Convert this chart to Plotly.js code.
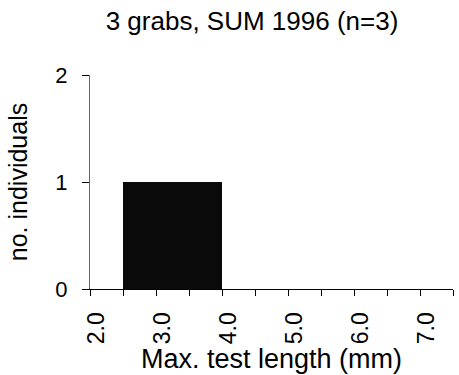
<!DOCTYPE html>
<html>
<head>
<meta charset="utf-8">
<script src="https://cdn.plot.ly/plotly-3.0.1.min.js"></script>
<style>html,body{margin:0;padding:0;background:#fff;}#chart{width:459px;height:375px;}</style>
</head>
<body>
<div id="chart"></div>
<script>
const binCenters = [2.75, 3.25, 3.75];
const counts = [1, 1, 1];
const xTickVals = [2, 3, 4, 5, 6, 7];
const xTickText = ['2.0', '3.0', '4.0', '5.0', '6.0', '7.0'];
const yTickVals = [0, 1, 2];
const yTickText = ['0', '1', '2'];
const titleText = '3 grabs, SUM 1996 (n=3)';
const xTitle = 'Max. test length (mm)';
const yTitle = 'no. individuals';

const font = 'Liberation Sans, Arial, sans-serif';

Plotly.newPlot('chart', [{
  type: 'bar',
  x: binCenters,
  y: counts,
  marker: {color: '#0a0a0a', line: {width: 0}},
  hoverinfo: 'none'
}], {
  width: 459, height: 375,
  margin: {l: 90, r: 6, t: 75, b: 86},
  paper_bgcolor: '#fff', plot_bgcolor: '#fff',
  bargap: 0,
  showlegend: false,
  font: {family: font, color: '#000'},
  title: {text: titleText, font: {size: 26, family: font, color: '#000'},
          x: 0.549, xanchor: 'center', xref: 'container', y: 0.944, yanchor: 'middle'},
  xaxis: {
    range: [2, 7.5], showgrid: false, zeroline: false,
    showline: true, linecolor: '#000', linewidth: 1,
    tickmode: 'array', tickvals: xTickVals, ticktext: xTickText,
    ticks: 'outside', ticklen: 6, tickcolor: '#000', tickwidth: 1,
    minor: {dtick: 0.5, tick0: 2, ticks: 'outside', ticklen: 6, tickcolor: '#000', tickwidth: 1, showgrid: false},
    tickangle: -90, tickfont: {size: 23, family: font, color: '#000'},
    ticklabelshift: 7, ticklabelstandoff: 7,
    title: {text: xTitle, font: {size: 27, family: font, color: '#000'}, standoff: 0},
    automargin: false, fixedrange: true
  },
  yaxis: {
    range: [0, 2], showgrid: false, zeroline: false,
    showline: true, linecolor: '#666', linewidth: 1,
    tickmode: 'array', tickvals: yTickVals, ticktext: yTickText,
    ticks: 'outside', ticklen: 7, tickcolor: '#000', tickwidth: 1,
    tickfont: {size: 22, family: font, color: '#000'},
    ticklabelstandoff: 10,
    title: {text: yTitle, font: {size: 25, family: font, color: '#000'}, standoff: 20},
    automargin: false, fixedrange: true
  }
}, {displayModeBar: false, staticPlot: true});
</script>
</body>
</html>
